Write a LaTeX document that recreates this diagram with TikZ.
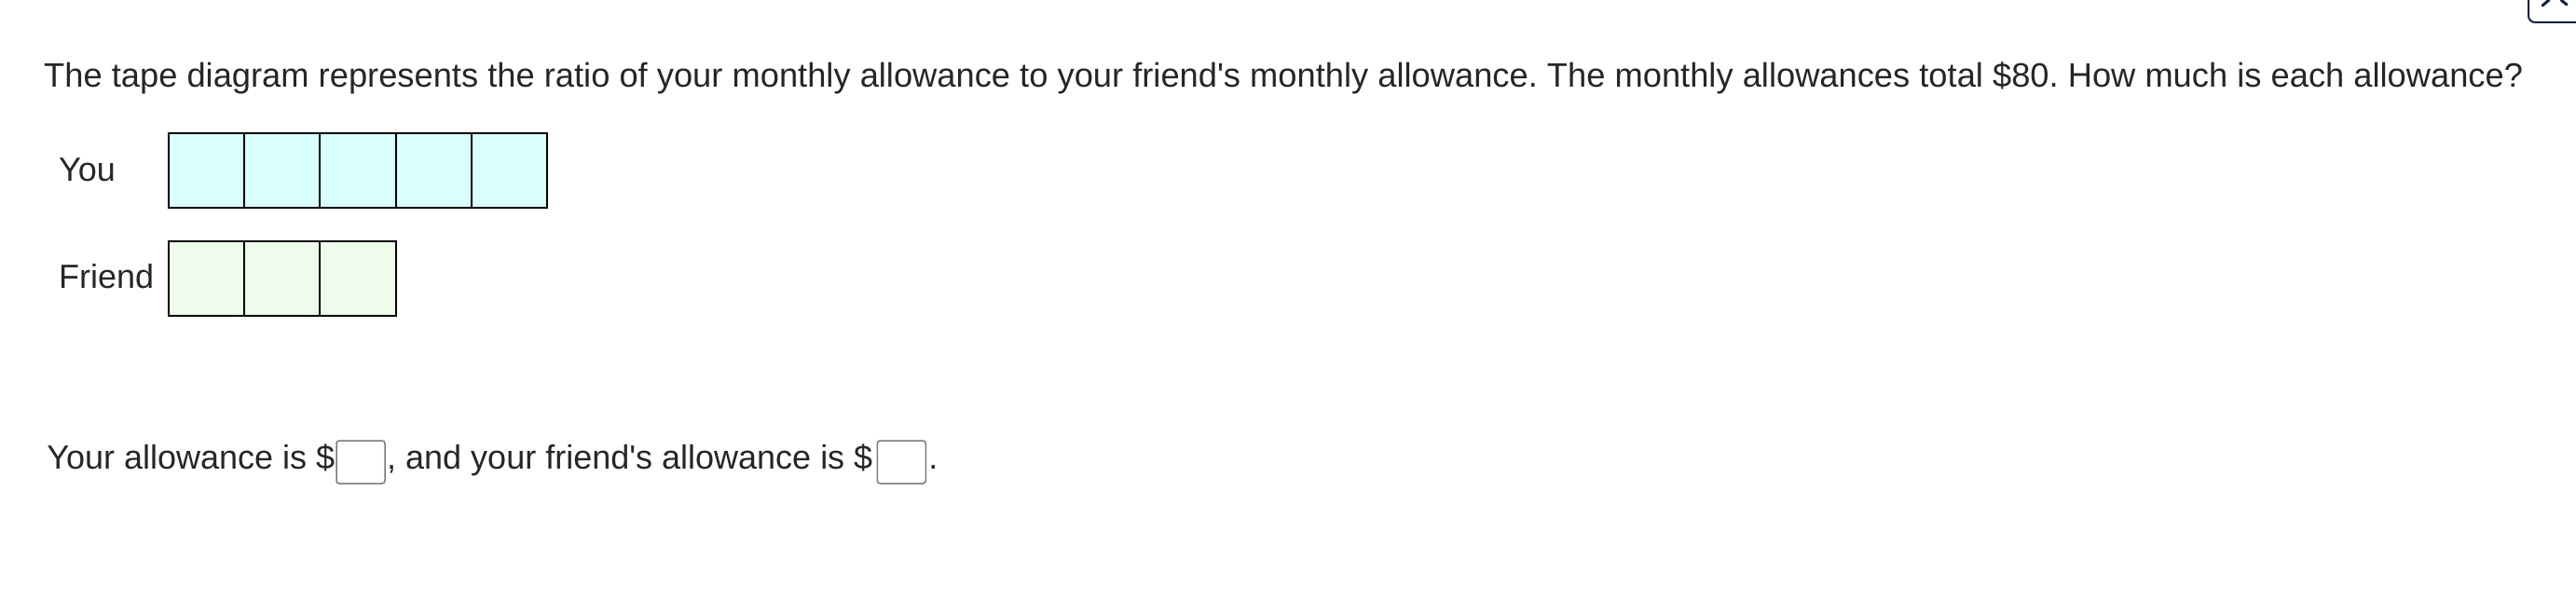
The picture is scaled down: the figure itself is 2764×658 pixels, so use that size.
\documentclass[tikz,border=0pt]{standalone}
\usepackage{fontspec}
\setmainfont{Liberation Sans}
\definecolor{txt}{HTML}{262626}
\definecolor{youfill}{HTML}{D9FEFE}
\definecolor{frfill}{HTML}{EEFCEB}
\definecolor{boxgray}{HTML}{7A7A7A}
\definecolor{navy}{HTML}{14223F}
\frenchspacing
\begin{document}
\begin{tikzpicture}[x=1pt,y=-1pt,
  lbl/.style={anchor=base west,inner sep=0pt,text=txt,font=\fontsize{36}{42}\selectfont},
  youcell/.style={draw=black,line width=2pt,fill=youfill,minimum width=81.3pt,minimum height=80pt,inner sep=0pt},
  frcell/.style={draw=black,line width=2pt,fill=frfill,minimum width=81.3pt,minimum height=80pt,inner sep=0pt},
  ansbox/.style={draw=boxgray,line width=1.5pt,rounded corners=3pt,fill=white,minimum width=52pt,minimum height=46pt,inner sep=0pt}]
\useasboundingbox (0,0) rectangle (2764,658);
% top-right partial button
\draw[navy,line width=2pt,rounded corners=7pt,fill=white] (2713,-12) rectangle (2780,24);
\draw[navy,line width=3pt,line cap=round] (2728,6) -- (2735,0);
\draw[navy,line width=3pt,line cap=round] (2748,0) -- (2754,5);
% title
\node[lbl,font=\fontsize{36.3}{42}\selectfont] (title) at (47,94) {The tape diagram represents the ratio of your monthly allowance to your friend\textquotesingle s monthly allowance. The monthly allowances total \$80. How much is each allowance?};
% labels
\node[lbl] (you) at (63,194) {You};
\node[lbl] (friend) at (63,309.5) {Friend};
% tapes
\foreach \i in {0,...,4} {
  \node[youcell] (y\i) at ({221.35+81.3*\i},182.7) {};
}
\foreach \i in {0,...,2} {
  \node[frcell] (f\i) at ({221.35+81.3*\i},299) {};
}
% answer sentence
\node[ansbox] (b1) at (387,496) {};
\node[lbl,anchor=base east] (t1) at (359.5,503) {Your allowance is \$};
\node[lbl] (t2) at (415,503) {, and your friend\textquotesingle s allowance is \$};
\node[ansbox,anchor=west] (b2) at ([xshift=4pt]t2.base east |- b1) {};
\node[lbl] (t3) at ([xshift=2pt]b2.east |- t2.base) {.};
\end{tikzpicture}
\end{document}
